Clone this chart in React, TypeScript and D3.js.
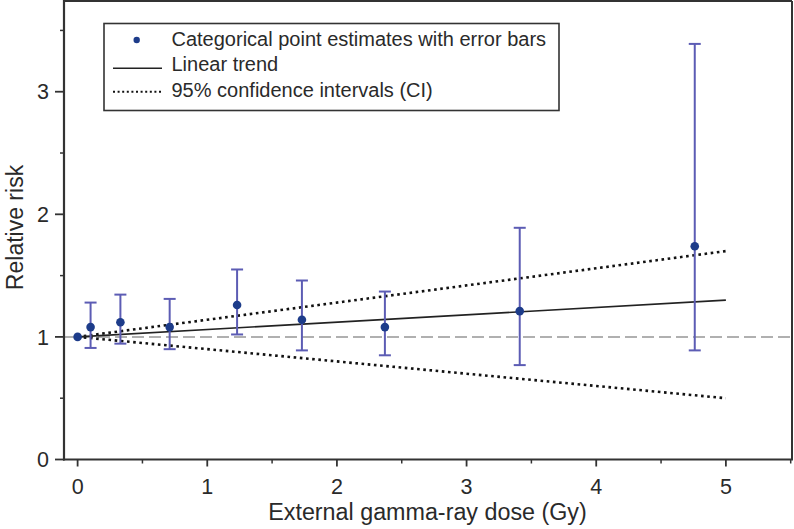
import React from "react";
import * as d3 from "d3";

const doses = [0, 0.1, 0.33, 0.71, 1.23, 1.73, 2.37, 3.41, 4.76];
const rr = [1.0, 1.08, 1.12, 1.08, 1.26, 1.14, 1.08, 1.21, 1.74];
const rrLow = [1.0, 0.91, 0.945, 0.9, 1.02, 0.89, 0.85, 0.77, 0.89];
const rrHigh = [1.0, 1.28, 1.345, 1.31, 1.55, 1.46, 1.37, 1.89, 3.39];
const trendX = [0, 5];
const trendY = [1.0, 1.3];
const ciUpperY = [1.0, 1.7];
const ciLowerY = [1.0, 0.5];
const xTicks = [0, 1, 2, 3, 4, 5];
const xMinor = [0.5, 1.5, 2.5, 3.5, 4.5, 5.5];
const yTicks = [0, 1, 2, 3];
const yMinor = [0.5, 1.5, 2.5, 3.5];
const legendLabels = [
  "Categorical point estimates with error bars",
  "Linear trend",
  "95% confidence intervals (CI)",
];

const W = 794;
const H = 529;
const L = 64, R = 792, T = 1, B = 459.5;

export default function App() {
  const x = d3.scaleLinear().domain([-0.105, 5.51]).range([L, R]);
  const y = d3.scaleLinear().domain([0, 3.74]).range([B, T]);
  const line = d3
    .line<[number, number]>()
    .x((d) => x(d[0]))
    .y((d) => y(d[1]));
  const axisColor = "#333";
  const pointColor = "#1d3c8a";
  const barColor = "#5c5cb4";
  const textColor = "#2a2a2a";
  const font = "'Liberation Sans', Arial, sans-serif";
  const capHalf = 6;

  return (
    <svg
      width={W}
      height={H}
      style={{ position: "absolute", left: 0, top: 0 }}
      fontFamily={font}
    >
      <rect x={0} y={0} width={W} height={H} fill="#fff" />
      {/* reference line */}
      <line
        x1={L}
        x2={R}
        y1={y(1)}
        y2={y(1)}
        stroke="#b0b0b0"
        strokeWidth={2}
        strokeDasharray="12,5"
      />
      {/* CI lines */}
      <path
        d={line(trendX.map((v, i) => [v, ciUpperY[i]]) as [number, number][]) || ""}
        fill="none"
        stroke="#111"
        strokeWidth={2.6}
        strokeDasharray="2.6,3.6"
      />
      <path
        d={line(trendX.map((v, i) => [v, ciLowerY[i]]) as [number, number][]) || ""}
        fill="none"
        stroke="#111"
        strokeWidth={2.6}
        strokeDasharray="2.6,3.6"
      />
      {/* trend */}
      <path
        d={line(trendX.map((v, i) => [v, trendY[i]]) as [number, number][]) || ""}
        fill="none"
        stroke="#222"
        strokeWidth={1.6}
      />
      {/* error bars */}
      {doses.map((d, i) =>
        rrHigh[i] === rrLow[i] ? null : (
          <g key={"e" + i} stroke={barColor} strokeWidth={2}>
            <line x1={x(d)} x2={x(d)} y1={y(rrLow[i])} y2={y(rrHigh[i])} />
            <line x1={x(d) - capHalf} x2={x(d) + capHalf} y1={y(rrLow[i])} y2={y(rrLow[i])} />
            <line x1={x(d) - capHalf} x2={x(d) + capHalf} y1={y(rrHigh[i])} y2={y(rrHigh[i])} />
          </g>
        )
      )}
      {/* points */}
      {doses.map((d, i) => (
        <circle key={"p" + i} cx={x(d)} cy={y(rr[i])} r={4.3} fill={pointColor} />
      ))}
      {/* frame */}
      <line x1={L} x2={R} y1={T} y2={T} stroke={axisColor} strokeWidth={2} />
      <line x1={R} x2={R} y1={T} y2={B} stroke={axisColor} strokeWidth={2} />
      <line x1={L} x2={L} y1={T - 1} y2={B + 1} stroke={axisColor} strokeWidth={2.2} />
      <line x1={L - 1} x2={R + 1} y1={B} y2={B} stroke={axisColor} strokeWidth={2.2} />
      {/* y ticks */}
      {yTicks.map((t) => (
        <g key={"yt" + t}>
          <line x1={L - 9} x2={L} y1={y(t)} y2={y(t)} stroke={axisColor} strokeWidth={1.8} />
          <text x={L - 15} y={y(t)} dy="0.36em" textAnchor="end" fontSize={21.5} fill={textColor}>
            {t}
          </text>
        </g>
      ))}
      {yMinor.map((t) => (
        <line key={"ym" + t} x1={L - 4} x2={L} y1={y(t)} y2={y(t)} stroke={axisColor} strokeWidth={1.5} />
      ))}
      {/* x ticks */}
      {xTicks.map((t) => (
        <g key={"xt" + t}>
          <line x1={x(t)} x2={x(t)} y1={B} y2={B + 7} stroke={axisColor} strokeWidth={1.8} />
          <text x={x(t)} y={493.5} textAnchor="middle" fontSize={21.5} fill={textColor}>
            {t}
          </text>
        </g>
      ))}
      {xMinor.map((t) => (
        <line key={"xm" + t} x1={x(t)} x2={x(t)} y1={B} y2={B + 4} stroke={axisColor} strokeWidth={1.5} />
      ))}
      {/* axis titles */}
      <text x={427.5} y={520} textAnchor="middle" fontSize={23.3} fill={textColor}>
        External gamma-ray dose (Gy)
      </text>
      <text
        transform={`translate(22.5, 227.5) rotate(-90)`}
        textAnchor="middle"
        fontSize={23}
        fill={textColor}
      >
        Relative risk
      </text>
      {/* legend */}
      <rect x={104} y={23.5} width={455} height={87} fill="#fff" stroke={axisColor} strokeWidth={1.6} />
      <circle cx={136.7} cy={40} r={3.2} fill={pointColor} />
      <line x1={113} x2={162} y1={68.3} y2={68.3} stroke="#222" strokeWidth={1.5} />
      <line x1={113} x2={162} y1={91.7} y2={91.7} stroke="#111" strokeWidth={2} strokeDasharray="2,2.6" />
      {legendLabels.map((lab, i) => (
        <text key={lab} x={171.5} y={[45.5, 70.5, 96.5][i]} fontSize={20} fill={textColor}>
          {lab}
        </text>
      ))}
    </svg>
  );
}
